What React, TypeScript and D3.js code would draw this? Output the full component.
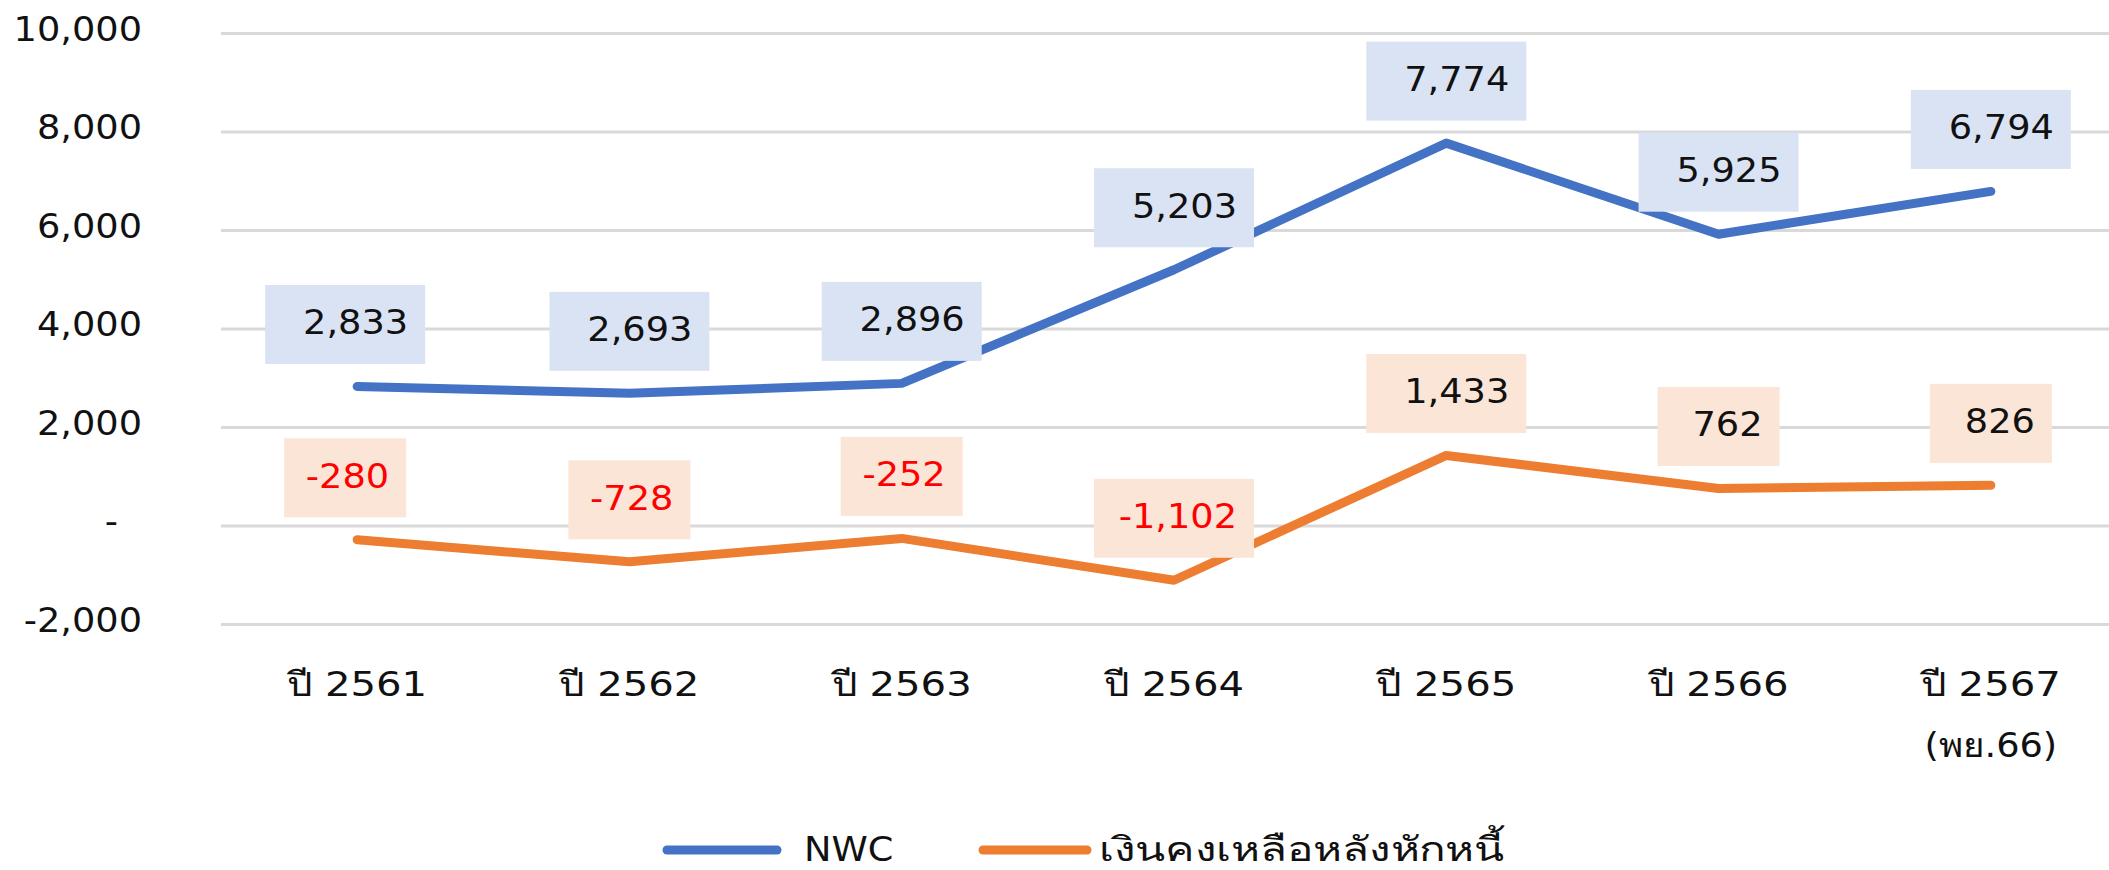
import React from 'react';
import * as d3 from 'd3';

const categories = ['ปี 2561', 'ปี 2562', 'ปี 2563', 'ปี 2564', 'ปี 2565', 'ปี 2566', 'ปี 2567'];
const categorySubLabels = ['', '', '', '', '', '', '(พย.66)'];
const nwcValues = [2833, 2693, 2896, 5203, 7774, 5925, 6794];
const balanceValues = [-280, -728, -252, -1102, 1433, 762, 826];
const yTicks = [-2000, 0, 2000, 4000, 6000, 8000, 10000];
const seriesNames = ['NWC', 'เงินคงเหลือหลังหักหนี้'];

const W = 2109;
const H = 870;
const FONT = "'DejaVu Sans', Verdana, sans-serif";
const FS = 34;
const SX = 1.08;

const loc = d3.formatLocale({ decimal: '.', thousands: ',', grouping: [3], currency: ['', ''], minus: '-' });
const fmt = loc.format(',');
const fmtTick = (v: number) => (v === 0 ? '-' : fmt(v));

const x = d3.scalePoint<string>().domain(categories).range([221, 2127]).padding(0.5);
const y = d3.scaleLinear().domain([-2000, 10000]).range([624.5, 33.5]);

const series = [
  { name: seriesNames[0], values: nwcValues, color: '#4472c4', box: '#dae3f3' },
  { name: seriesNames[1], values: balanceValues, color: '#ed7d31', box: '#fbe5d6' },
];

function T(props: {
  x: number;
  y: number;
  anchor?: string;
  fill?: string;
  children: React.ReactNode;
  size?: number;
  len?: number;
}) {
  const { anchor = 'start', fill = '#111', size = FS, len } = props;
  return (
    <text
      transform={`translate(${props.x},${props.y}) scale(${SX},1)`}
      textAnchor={anchor}
      fill={fill}
      fontFamily={FONT}
      fontSize={size}
      {...(len ? { textLength: len / SX, lengthAdjust: 'spacingAndGlyphs' } : {})}
    >
      {props.children}
    </text>
  );
}

export default function App() {
  const line = d3
    .line<number>()
    .x((_, i) => x(categories[i]) as number)
    .y((d) => y(d));

  return (
    <svg width={W} height={H} style={{ position: 'absolute', left: 0, top: 0, background: '#fff' }}>
      <rect x={0} y={0} width={W} height={H} fill="#fff" />
      {yTicks.map((t) => (
        <g key={t}>
          <line x1={221} x2={2127} y1={y(t)} y2={y(t)} stroke="#d9d9d9" strokeWidth={2.8} />
          <T x={t === 0 ? 118 : 142} y={y(t) + 7} anchor="end">
            {fmtTick(t)}
          </T>
        </g>
      ))}
      {series.map((s) => (
        <path
          key={s.name}
          d={line(s.values) || ''}
          fill="none"
          stroke={s.color}
          strokeWidth={9}
          strokeLinecap="round"
          strokeLinejoin="round"
        />
      ))}
      {series.map((s) =>
        s.values.map((v, i) => {
          const cx = (x(categories[i]) as number) - (i === 0 ? 12 : 0);
          const cy = y(v) - 62;
          const label = fmt(v);
          const bw = label.length <= 4 ? 122 : 160;
          const bh = 79;
          return (
            <g key={s.name + i}>
              <rect x={cx - bw / 2} y={cy - bh / 2} width={bw} height={bh} fill={s.box} />
              <T x={cx + bw / 2 - 17} y={cy + 10} anchor="end" fill={v < 0 ? '#ff0000' : '#111'}>
                {label}
              </T>
            </g>
          );
        })
      )}
      {categories.map((c, i) => (
        <g key={c}>
          <T x={x(c) as number} y={696} anchor="middle" len={140}>
            {c}
          </T>
          {categorySubLabels[i] && (
            <T x={x(c) as number} y={757} anchor="middle">
              {categorySubLabels[i]}
            </T>
          )}
        </g>
      ))}
      <line x1={667} x2={777} y1={850} y2={850} stroke={series[0].color} strokeWidth={9} strokeLinecap="round" />
      <T x={804} y={861}>{seriesNames[0]}</T>
      <line x1={983} x2={1087} y1={850} y2={850} stroke={series[1].color} strokeWidth={9} strokeLinecap="round" />
      <T x={1099} y={861} len={405}>
        {seriesNames[1]}
      </T>
    </svg>
  );
}
